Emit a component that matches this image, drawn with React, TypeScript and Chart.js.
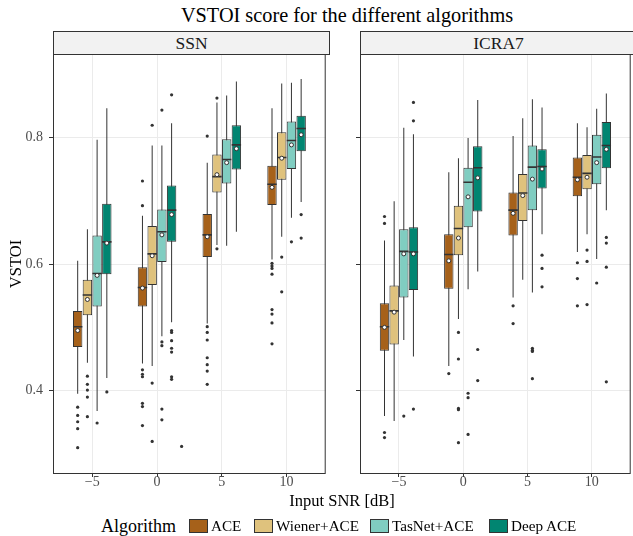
import React, { useEffect, useRef } from 'react';
import { Chart, registerables } from 'chart.js';

Chart.register(...registerables);

const FONT = "'Liberation Serif', 'Times New Roman', serif";

const snrLevels = [-5, 0, 5, 10];
const xTicks = [-5, 0, 5, 10];
const yTicks = [0.4, 0.6, 0.8];
const algorithms = ['ACE', 'Wiener+ACE', 'TasNet+ACE', 'Deep ACE'];
const algColors = ['#a6611a', '#dfc27d', '#80cdc1', '#018571'];
const facetNames = ['SSN', 'ICRA7'];

// Each row: [lower whisker, Q1, median, Q3, upper whisker, mean], one row per SNR level (-5, 0, 5, 10 dB)
const ssnACE = [
  [0.395, 0.469, 0.501, 0.526, 0.605, 0.495],
  [0.443, 0.533, 0.563, 0.595, 0.676, 0.562],
  [0.506, 0.611, 0.646, 0.679, 0.760, 0.643],
  [0.607, 0.693, 0.726, 0.755, 0.846, 0.721],
];
const ssnWiener = [
  [0.444, 0.519, 0.551, 0.575, 0.655, 0.544],
  [0.439, 0.567, 0.616, 0.660, 0.787, 0.613],
  [0.630, 0.713, 0.738, 0.773, 0.855, 0.741],
  [0.643, 0.733, 0.768, 0.808, 0.885, 0.767],
];
const ssnTasNet = [
  [0.368, 0.533, 0.585, 0.645, 0.796, 0.582],
  [0.486, 0.603, 0.651, 0.686, 0.787, 0.646],
  [0.629, 0.727, 0.765, 0.797, 0.866, 0.760],
  [0.673, 0.750, 0.795, 0.825, 0.886, 0.788],
];
const ssnDeep = [
  [0.420, 0.584, 0.635, 0.695, 0.846, 0.633],
  [0.508, 0.635, 0.685, 0.724, 0.822, 0.678],
  [0.651, 0.749, 0.788, 0.819, 0.888, 0.782],
  [0.698, 0.778, 0.814, 0.834, 0.892, 0.804],
];

// Outliers per SNR level
const ssnACEOut = [
  [0.374, 0.361, 0.351, 0.340, 0.310],
  [0.731, 0.692, 0.433, 0.426, 0.422, 0.380, 0.375, 0.345],
  [0.802, 0.501, 0.492, 0.480, 0.452, 0.441, 0.431, 0.410],
  [0.601, 0.597, 0.593, 0.584, 0.528, 0.521, 0.507, 0.474],
];
const ssnWienerOut = [
  [0.423, 0.410, 0.401, 0.390, 0.359],
  [0.819, 0.412, 0.320],
  [0.862, 0.624],
  [0.611, 0.556],
];
const ssnTasNetOut = [
  [0.349],
  [0.843, 0.477, 0.471, 0.371, 0.354],
  [],
  [0.635],
];
const ssnDeepOut = [
  [0.398],
  [0.867, 0.495, 0.492, 0.479, 0.467, 0.461, 0.422, 0.418],
  [],
  [0.678, 0.641],
];
const ssnStrayPoints = [{ x: 1.9, y: 0.312 }];

const icraACE = [
  [0.360, 0.463, 0.501, 0.538, 0.637, 0.500],
  [0.439, 0.561, 0.615, 0.647, 0.745, 0.605],
  [0.547, 0.645, 0.685, 0.713, 0.802, 0.680],
  [0.619, 0.707, 0.737, 0.768, 0.822, 0.733],
];
const icraWiener = [
  [0.352, 0.473, 0.526, 0.566, 0.699, 0.524],
  [0.513, 0.614, 0.656, 0.692, 0.767, 0.641],
  [0.575, 0.668, 0.712, 0.742, 0.830, 0.708],
  [0.647, 0.718, 0.743, 0.772, 0.816, 0.737],
];
const icraTasNet = [
  [0.480, 0.547, 0.620, 0.655, 0.815, 0.616],
  [0.560, 0.658, 0.729, 0.752, 0.799, 0.706],
  [0.555, 0.685, 0.753, 0.787, 0.860, 0.734],
  [0.608, 0.726, 0.769, 0.804, 0.845, 0.760],
];
const icraDeep = [
  [0.454, 0.559, 0.619, 0.658, 0.805, 0.616],
  [0.588, 0.683, 0.752, 0.786, 0.859, 0.736],
  [0.647, 0.719, 0.754, 0.781, 0.847, 0.750],
  [0.685, 0.751, 0.787, 0.824, 0.869, 0.781],
];

const icraACEOut = [
  [0.675, 0.664, 0.334, 0.326],
  [0.427],
  [0.534, 0.506],
  [0.602, 0.577, 0.534],
];
const icraWienerOut = [
  [],
  [0.492, 0.450, 0.372, 0.370, 0.318],
  [],
  [0.622, 0.604, 0.536],
];
const icraTasNetOut = [
  [0.360],
  [0.396, 0.389, 0.331],
  [0.467, 0.464, 0.462, 0.419],
  [0.570],
];
const icraDeepOut = [
  [0.855, 0.826, 0.371],
  [0.465, 0.416],
  [0.614, 0.593, 0.564],
  [0.642, 0.633, 0.595, 0.414],
];

// ---- layout / style constants ----
const dodge = [-1.125, -0.375, 0.375, 1.125];
const X_MIN = -8.03;
const X_MAX = 13.02;
const Y_MIN = 0.2685;
const Y_MAX = 0.9315;
const DARK = '#333333';

const panelBorder = {
  id: 'panelBorder',
  afterDatasetsDraw(chart: any) {
    const { ctx, chartArea: a } = chart;
    ctx.save();
    ctx.strokeStyle = DARK;
    ctx.lineWidth = 1;
    ctx.strokeRect(a.left + 0.5, a.top + 0.5, a.right - a.left - 1, a.bottom - a.top - 1);
    ctx.restore();
  },
};

function buildDatasets(stats: number[][][], outliers: number[][][], extra: { x: number; y: number }[]) {
  const ds: any[] = [];
  stats.forEach((rows, a) => {
    const xs = snrLevels.map((s) => s + dodge[a]);
    ds.push({
      type: 'bar',
      label: algorithms[a] + ' whiskers',
      data: rows.map((r, i) => ({ x: xs[i], y: [r[0], r[4]] })),
      backgroundColor: DARK,
      borderWidth: 0,
      barThickness: 1,
      grouped: false,
      inflateAmount: 0,
      order: 5,
    });
    ds.push({
      type: 'bar',
      label: algorithms[a],
      data: rows.map((r, i) => ({ x: xs[i], y: [r[1], r[3]] })),
      backgroundColor: algColors[a],
      borderColor: DARK,
      borderWidth: 1,
      borderSkipped: false,
      barThickness: 9.4,
      grouped: false,
      inflateAmount: 0,
      order: 4,
    });
    ds.push({
      type: 'scatter',
      label: algorithms[a] + ' median',
      data: rows.map((r, i) => ({ x: xs[i], y: r[2] })),
      pointStyle: 'line',
      pointRadius: 4.7,
      pointBorderWidth: 1.6,
      pointBorderColor: DARK,
      order: 3,
    });
    ds.push({
      type: 'scatter',
      label: algorithms[a] + ' outliers',
      data: outliers[a].flatMap((vals, i) => vals.map((v) => ({ x: xs[i], y: v }))),
      pointRadius: 1.6,
      pointBackgroundColor: DARK,
      pointBorderWidth: 0,
      order: 2,
    });
    ds.push({
      type: 'scatter',
      label: algorithms[a] + ' mean',
      data: rows.map((r, i) => ({ x: xs[i], y: r[5] })),
      pointRadius: 2,
      pointBackgroundColor: '#ffffff',
      pointBorderColor: DARK,
      pointBorderWidth: 1,
      order: 1,
    });
  });
  if (extra.length) {
    ds.push({
      type: 'scatter',
      label: 'other',
      data: extra,
      pointRadius: 1.6,
      pointBackgroundColor: DARK,
      pointBorderWidth: 0,
      order: 2,
    });
  }
  return ds;
}

const fmtX = (v: number) => (v < 0 ? '\u2212' + Math.abs(v) : String(v));

type PanelProps = {
  stats: number[][][];
  outliers: number[][][];
  extra: { x: number; y: number }[];
  left: number;
  width: number;
  yAxisWidth: number;
  padRight: number;
  showYLabels: boolean;
};

function Panel({ stats, outliers, extra, left, width, yAxisWidth, padRight, showYLabels }: PanelProps) {
  const ref = useRef<HTMLCanvasElement>(null);
  const height = 466;
  useEffect(() => {
    if (!ref.current) return;
    const chart = new Chart(ref.current, {
      type: 'bar',
      data: { datasets: buildDatasets(stats, outliers, extra) },
      options: {
        responsive: false,
        animation: false,
        devicePixelRatio: 1,
        events: [],
        layout: { padding: { top: 10, right: padRight, bottom: 0, left: 0 } },
        plugins: { legend: { display: false }, tooltip: { enabled: false }, title: { display: false } },
        scales: {
          x: {
            type: 'linear',
            min: X_MIN,
            max: X_MAX,
            offset: false,
            afterBuildTicks: (s: any) => {
              s.ticks = xTicks.map((v) => ({ value: v }));
            },
            afterFit: (s: any) => {
              s.height = 36;
              s.paddingLeft = 0;
              s.paddingRight = 0;
            },
            grid: { color: '#ebebeb', lineWidth: 1, offset: false, drawTicks: true, tickLength: 3, tickColor: DARK, tickWidth: 1 },
            border: { display: false },
            ticks: {
              color: '#4d4d4d',
              font: { family: FONT, size: 14, lineHeight: 0.8 },
              padding: 0,
              maxRotation: 0,
              autoSkip: false,
              callback: (v: any) => fmtX(Number(v)),
            },
          },
          y: {
            type: 'linear',
            min: Y_MIN,
            max: Y_MAX,
            afterBuildTicks: (s: any) => {
              s.ticks = yTicks.map((v) => ({ value: v }));
            },
            afterFit: (s: any) => {
              s.width = yAxisWidth;
              s.paddingTop = 0;
              s.paddingBottom = 0;
            },
            grid: { color: '#ebebeb', lineWidth: 1, drawTicks: true, tickLength: 4, tickColor: DARK, tickWidth: 1 },
            border: { display: false },
            ticks: {
              display: showYLabels,
              color: '#4d4d4d',
              font: { family: FONT, size: 14 },
              padding: 6,
              callback: (v: any) => Number(v).toFixed(1),
            },
            title: {
              display: showYLabels,
              text: 'VSTOI',
              color: '#000000',
              font: { family: FONT, size: 16.5 },
              padding: { top: 7, bottom: 0 },
            },
          },
        },
      } as any,
      plugins: [panelBorder],
    } as any);
    return () => chart.destroy();
  }, []);
  return (
    <canvas
      ref={ref}
      width={width}
      height={height}
      style={{ position: 'absolute', left, top: 44, width, height }}
    />
  );
}

const legendKeyLeft = [189, 254, 370, 489];

export default function App() {
  const stripStyle = (left: number): React.CSSProperties => ({
    position: 'absolute',
    left,
    top: 31,
    width: 277,
    height: 24,
    boxSizing: 'border-box',
    border: '1px solid ' + DARK,
    background: '#f2f2f2',
    color: '#1a1a1a',
    fontSize: 17.5,
    lineHeight: '22px',
    textAlign: 'center',
  });
  return (
    <div
      style={{
        position: 'absolute',
        left: 0,
        top: 0,
        width: 633,
        height: 536,
        overflow: 'hidden',
        background: '#ffffff',
        fontFamily: FONT,
        color: '#000000',
      }}
    >
      <div style={{ position: 'absolute', left: 97, width: 500, top: 3, lineHeight: '24px', fontSize: 20.3, textAlign: 'center' }}>
        VSTOI score for the different algorithms
      </div>
      <div style={stripStyle(53)}>{facetNames[0]}</div>
      <div style={stripStyle(360)}>{facetNames[1]}</div>
      <Panel
        stats={[ssnACE, ssnWiener, ssnTasNet, ssnDeep]}
        outliers={[ssnACEOut, ssnWienerOut, ssnTasNetOut, ssnDeepOut]}
        extra={ssnStrayPoints}
        left={0}
        width={332}
        yAxisWidth={53}
        padRight={2}
        showYLabels={true}
      />
      <Panel
        stats={[icraACE, icraWiener, icraTasNet, icraDeep]}
        outliers={[icraACEOut, icraWienerOut, icraTasNetOut, icraDeepOut]}
        extra={[]}
        left={331}
        width={306}
        yAxisWidth={29}
        padRight={0}
        showYLabels={false}
      />
      <div style={{ position: 'absolute', left: 192, width: 300, top: 491, lineHeight: '20px', fontSize: 16.5, textAlign: 'center' }}>
        Input SNR [dB]
      </div>
      <div style={{ position: 'absolute', left: 101, top: 515, lineHeight: '22px', fontSize: 18, whiteSpace: 'nowrap' }}>
        Algorithm
      </div>
      {algorithms.map((name, i) => (
        <React.Fragment key={name}>
          <div
            style={{
              position: 'absolute',
              left: legendKeyLeft[i],
              top: 519,
              width: 19,
              height: 14,
              boxSizing: 'border-box',
              border: '1px solid ' + DARK,
              background: algColors[i],
            }}
          />
          <div
            style={{
              position: 'absolute',
              left: legendKeyLeft[i] + 22,
              top: 516,
              lineHeight: '20px',
              fontSize: 15.2,
              whiteSpace: 'nowrap',
            }}
          >
            {name}
          </div>
        </React.Fragment>
      ))}
    </div>
  );
}
